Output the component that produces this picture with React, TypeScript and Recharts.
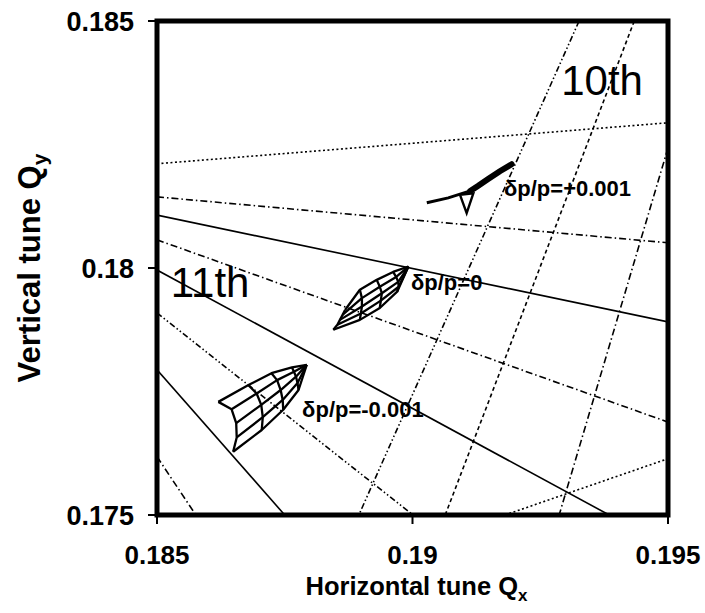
import React from "react";
import {
  ComposedChart,
  Line,
  XAxis,
  YAxis,
  ReferenceArea,
  ReferenceDot,
} from "recharts";

const FONT = "'Liberation Sans', Arial, Helvetica, sans-serif";

const xTicks = [0.185, 0.19, 0.195];
const xTickLabels = ["0.185", "0.19", "0.195"];
const yTicks = [0.175, 0.18, 0.185];
const yTickLabels = ["0.175", "0.18", "0.185"];

// resonance lines, [Qx, Qy] where they cross the frame
const gentleUp = [[0.185, 0.18211], [0.195, 0.18294]];
const fan1 = [[0.185, 0.18144], [0.195, 0.18051]];
const fan2 = [[0.185, 0.18107], [0.195, 0.17891]];
const fan3 = [[0.185, 0.18057], [0.195, 0.17688]];
const fan4 = [[0.185, 0.17996], [0.19385, 0.175]];
const fan5 = [[0.185, 0.17909], [0.19001, 0.175]];
const fan6 = [[0.185, 0.17794], [0.1875, 0.175]];
const fan7 = [[0.185, 0.17618], [0.18576, 0.175]];
const steep1 = [[0.19326, 0.185], [0.18895, 0.175]];
const steep2 = [[0.19434, 0.185], [0.19064, 0.175]];
const steep3 = [[0.195, 0.18243], [0.19287, 0.175]];
const lowerUp = [[0.19181, 0.175], [0.195, 0.17614]];

// tune footprint dp/p = -0.001 : tip + amplitude arcs (5 nodes each)
const fpMinusTip = [0.18793, 0.17804];
const fpMinusArcs = [
  [[0.18764, 0.17799], [0.18768, 0.1779], [0.18772, 0.1778], [0.18775, 0.17767], [0.18777, 0.17753]],
  [[0.18724, 0.17787], [0.18735, 0.17773], [0.18742, 0.17753], [0.18746, 0.17733], [0.18747, 0.17713]],
  [[0.18679, 0.17763], [0.18695, 0.17746], [0.18704, 0.17723], [0.18707, 0.17698], [0.18705, 0.17672]],
  [[0.1862, 0.17729], [0.18646, 0.17714], [0.18655, 0.17686], [0.18656, 0.17657], [0.18649, 0.17628]],
];

// tune footprint dp/p = 0
const fpZeroTip = [0.18992, 0.18003];
const fpZeroArcs = [
  [[0.18962, 0.17992], [0.18968, 0.17982], [0.18972, 0.17972], [0.18973, 0.17962], [0.1897, 0.17952]],
  [[0.1893, 0.17976], [0.18936, 0.17962], [0.1894, 0.17949], [0.18938, 0.17934], [0.18936, 0.17919]],
  [[0.18897, 0.17956], [0.18901, 0.17939], [0.18901, 0.17922], [0.18899, 0.17908], [0.18897, 0.17895]],
  [[0.18868, 0.17915], [0.18863, 0.17905], [0.18858, 0.17895], [0.18853, 0.17885], [0.18845, 0.17875]],
];

// tune footprint dp/p = +0.001 (collapsed)
const fpPlusStreak = [[0.19194, 0.1821], [0.19171, 0.18196], [0.19148, 0.1818], [0.19128, 0.18166], [0.19113, 0.18156]];
const fpPlusBranch = [[0.19113, 0.18156], [0.1907, 0.18142], [0.19028, 0.18132]];
const fpPlusTriangle = [[0.19093, 0.18148], [0.19106, 0.18111], [0.19119, 0.18151], [0.19093, 0.18148]];

const noteTexts = ["10th", "11th", "δp/p=+0.001", "δp/p=0", "δp/p=-0.001"];
const notePos = [
  [0.19291, 0.1835],
  [0.18527, 0.17941],
  [0.19179, 0.18146],
  [0.18997, 0.17956],
  [0.18784, 0.17699],
];

const DOT = "2 2.5";
const DASH = "4 3";
const DASHDOT = "7 3 1.5 3";
const DASHDOTDOT = "6 2.5 1.5 2.5 1.5 2.5";

const resSeries: [number[][], string | undefined][] = [
  [gentleUp, DOT],
  [fan1, DASHDOT],
  [fan2, undefined],
  [fan3, DASHDOT],
  [fan4, undefined],
  [fan5, DASHDOTDOT],
  [fan6, undefined],
  [fan7, DASHDOT],
  [steep1, DASHDOTDOT],
  [steep2, DASH],
  [steep3, DASHDOT],
  [lowerUp, DOT],
];

const toPts = (arr: number[][]) => arr.map(([x, y]) => ({ x, y }));

function mesh(tip: number[], arcs: number[][][]) {
  const ribs = arcs[0].map((_, j) => [tip, ...arcs.map((a) => a[j])]);
  return [...arcs, ...ribs];
}

const footprintLines = [...mesh(fpMinusTip, fpMinusArcs), ...mesh(fpZeroTip, fpZeroArcs)];

function XTick(props: any) {
  const { x, y, payload } = props;
  const i = xTicks.indexOf(payload.value);
  return (
    <text x={x} y={y + 40} textAnchor="middle" fontFamily={FONT} fontWeight="bold" fontSize={26} fill="#000">
      {xTickLabels[i]}
    </text>
  );
}

function YTick(props: any) {
  const { x, y, payload } = props;
  const i = yTicks.indexOf(payload.value);
  return (
    <text x={x - 14} y={y + 10} textAnchor="end" fontFamily={FONT} fontWeight="bold" fontSize={27} fill="#000">
      {yTickLabels[i]}
    </text>
  );
}

const xTitle = (props: any) => {
  const vb = props.viewBox;
  return (
    <text x={vb.x + vb.width / 2 + 4} y={vb.y + 80} textAnchor="middle" fontFamily={FONT} fontWeight="bold" fontSize={25.5} fill="#000">
      Horizontal tune Q<tspan fontSize={17} dy={6}>x</tspan>
    </text>
  );
};

const yTitle = (props: any) => {
  const vb = props.viewBox;
  const cx = 40;
  const cy = vb.y + vb.height / 2;
  return (
    <text x={cx} y={cy} transform={`rotate(-90 ${cx} ${cy})`} textAnchor="middle" fontFamily={FONT} fontWeight="bold" fontSize={31} fill="#000">
      Vertical tune Q<tspan fontSize={21} dy={7}>y</tspan>
    </text>
  );
};

const noteLabel = (i: number) => (props: any) => {
  const vb = props.viewBox;
  const big = i < 2;
  return (
    <text x={vb.x} y={vb.y} fontFamily={FONT} fontWeight={big ? "normal" : "bold"} fontSize={big ? 42 : 22} fill="#000">
      {noteTexts[i]}
    </text>
  );
};

export default function App() {
  return (
    <div style={{ position: "absolute", left: 0, top: 0, background: "#fff" }}>
      <ComposedChart width={705} height={613} margin={{ top: 21, right: 37, bottom: 0, left: 0 }}>
        <XAxis
          type="number"
          dataKey="x"
          domain={[0.185, 0.195]}
          allowDataOverflow
          ticks={xTicks}
          interval={0}
          tickSize={9}
          tickMargin={0}
          height={98}
          axisLine={false}
          tickLine={{ stroke: "#000", strokeWidth: 2 }}
          tick={<XTick />}
          label={xTitle}
        />
        <YAxis
          type="number"
          dataKey="y"
          domain={[0.175, 0.185]}
          allowDataOverflow
          ticks={yTicks}
          interval={0}
          tickSize={9}
          tickMargin={0}
          width={157}
          axisLine={false}
          tickLine={{ stroke: "#000", strokeWidth: 2 }}
          tick={<YTick />}
          label={yTitle}
        />
        {resSeries.map(([d, dash], i) => (
          <Line
            key={`res-${i}`}
            data={toPts(d)}
            dataKey="y"
            type="linear"
            stroke="#000"
            strokeWidth={1.6}
            strokeDasharray={dash}
            dot={false}
            activeDot={false}
            isAnimationActive={false}
          />
        ))}
        {footprintLines.map((d, i) => (
          <Line
            key={`fp-${i}`}
            data={toPts(d)}
            dataKey="y"
            type="linear"
            stroke="#000"
            strokeWidth={2.3}
            strokeLinejoin="round"
            dot={false}
            activeDot={false}
            isAnimationActive={false}
          />
        ))}
        <Line
          data={toPts(fpPlusStreak)}
          dataKey="y"
          type="linear"
          stroke="#000"
          strokeWidth={6}
          strokeLinecap="round"
          dot={false}
          activeDot={false}
          isAnimationActive={false}
        />
        <Line
          data={toPts(fpPlusBranch)}
          dataKey="y"
          type="linear"
          stroke="#000"
          strokeWidth={3}
          dot={false}
          activeDot={false}
          isAnimationActive={false}
        />
        <Line
          data={toPts(fpPlusTriangle)}
          dataKey="y"
          type="linear"
          stroke="#000"
          strokeWidth={2.4}
          dot={false}
          activeDot={false}
          isAnimationActive={false}
        />
        <ReferenceArea
          x1={0.185}
          x2={0.195}
          y1={0.175}
          y2={0.185}
          fill="none"
          stroke="#000"
          strokeWidth={5}
          ifOverflow="visible"
        />
        {notePos.map((p, i) => (
          <ReferenceDot key={`note-${i}`} x={p[0]} y={p[1]} r={0} fill="none" stroke="none" label={noteLabel(i)} />
        ))}
      </ComposedChart>
    </div>
  );
}
